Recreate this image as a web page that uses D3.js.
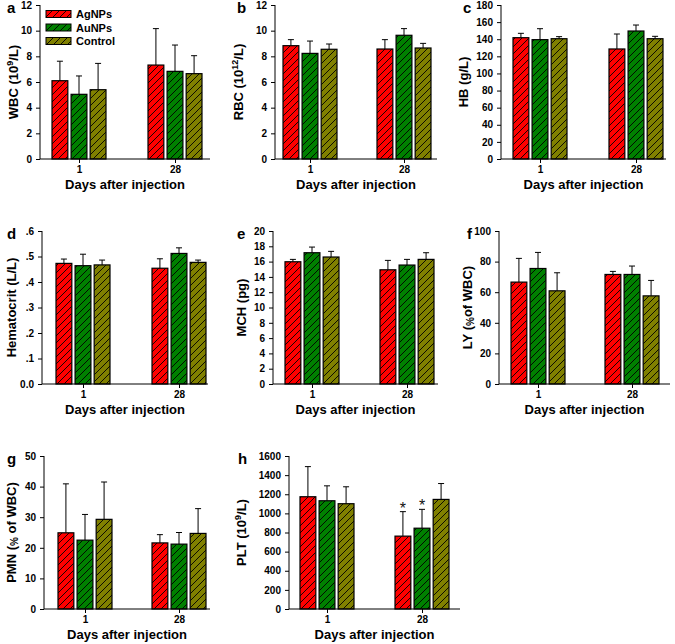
<!DOCTYPE html>
<html><head><meta charset="utf-8">
<script src="https://cdn.jsdelivr.net/npm/d3@7"></script>
<style>
body{margin:0;background:#fff;}
svg{display:block;font-family:Arial,"Liberation Sans",sans-serif;font-weight:bold;}
</style></head>
<body><svg id="chart" width="675" height="644"></svg>
<script>
// ---- data ----
const days = ["1", "28"];
const series = ["AgNPs", "AuNPs", "Control"];
const seriesColors = ["#ff0000", "#008000", "#808000"];

// means [day1, day28] and upper error (SD) per series, per panel
const wbcMean = {AgNPs:[6.1,7.32], AuNPs:[5.04,6.83], Control:[5.4,6.65]};
const wbcErr  = {AgNPs:[1.52,2.84], AuNPs:[1.43,2.05], Control:[2.05,1.4]};
const rbcMean = {AgNPs:[8.83,8.57], AuNPs:[8.23,9.64], Control:[8.55,8.65]};
const rbcErr  = {AgNPs:[0.47,0.73], AuNPs:[0.96,0.52], Control:[0.41,0.36]};
const hbMean  = {AgNPs:[141.8,128.6], AuNPs:[139.5,149.6], Control:[140.6,140.6]};
const hbErr   = {AgNPs:[5.1,17.5], AuNPs:[12.8,7], Control:[2.4,2.8]};
const hctMean = {AgNPs:[0.473,0.454], AuNPs:[0.464,0.512], Control:[0.467,0.477]};
const hctErr  = {AgNPs:[0.017,0.037], AuNPs:[0.045,0.022], Control:[0.019,0.009]};
const mchMean = {AgNPs:[15.98,14.93], AuNPs:[17.16,15.55], Control:[16.6,16.29]};
const mchErr  = {AgNPs:[0.31,1.23], AuNPs:[0.74,0.74], Control:[0.74,0.87]};
const lyMean  = {AgNPs:[66.6,71.6], AuNPs:[75.5,71.6], Control:[60.9,57.6]};
const lyErr   = {AgNPs:[15.5,2], AuNPs:[10.5,5.5], Control:[11.8,10.1]};
const pmnMean = {AgNPs:[24.9,21.6], AuNPs:[22.5,21.2], Control:[29.3,24.7]};
const pmnErr  = {AgNPs:[16,2.7], AuNPs:[8.4,3.8], Control:[12.2,8.1]};
const pltMean = {AgNPs:[1174,762], AuNPs:[1132,845], Control:[1101,1146]};
const pltErr  = {AgNPs:[315,256], AuNPs:[156,197], Control:[177,166]};
const pltSignif = [{series:"AgNPs", day:"28"}, {series:"AuNPs", day:"28"}];

const wbcTicks = [0,2,4,6,8,10,12];
const rbcTicks = [0,2,4,6,8,10,12];
const hbTicks  = [0,20,40,60,80,100,120,140,160,180];
const hctTicks = [0,0.1,0.2,0.3,0.4,0.5,0.6];
const hctTickLabels = ["0.0",".1",".2",".3",".4",".5",".6"];
const mchTicks = [0,2,4,6,8,10,12,14,16,18,20];
const lyTicks  = [0,20,40,60,80,100];
const pmnTicks = [0,10,20,30,40,50];
const pltTicks = [0,200,400,600,800,1000,1200,1400,1600];

const xTitle = "Days after injection";

// ---- layout ----
const panels = [
 {letter:"a", mean:wbcMean, err:wbcErr, ticks:wbcTicks, label:[["WBC (10"],["9","sup"],["/L)"]],
  x0:40, x1:210, c1:79, c28:175, top:5, base:159, lx:18, letX:7},
 {letter:"b", mean:rbcMean, err:rbcErr, ticks:rbcTicks, label:[["RBC (10"],["12","sup"],["/L)"]],
  x0:275, x1:437, c1:310, c28:404, top:5, base:159, lx:243, letX:237},
 {letter:"c", mean:hbMean, err:hbErr, ticks:hbTicks, label:[["HB (g/L)"]],
  x0:501, x1:666, c1:540, c28:636, top:5, base:159, lx:468, letX:463},
 {letter:"d", mean:hctMean, err:hctErr, ticks:hctTicks, tickLabels:hctTickLabels, label:[["Hematocrit (L/L)"]],
  x0:42, x1:208, c1:83, c28:179, top:231, base:384, lx:16, letX:7},
 {letter:"e", mean:mchMean, err:mchErr, ticks:mchTicks, label:[["MCH (pg)"]],
  x0:273, x1:438, c1:312, c28:407, top:231, base:384, lx:246, letX:237},
 {letter:"f", mean:lyMean, err:lyErr, ticks:lyTicks, label:[["LY ("],["%","small"],["of WBC)"]],
  x0:499, x1:670, c1:538, c28:632, top:231, base:384, lx:472, letX:467},
 {letter:"g", mean:pmnMean, err:pmnErr, ticks:pmnTicks, label:[["PMN ("],["%","small"],[" of WBC)"]],
  x0:44, x1:210, c1:85, c28:179, top:456, base:609, lx:16, letX:7},
 {letter:"h", mean:pltMean, err:pltErr, ticks:pltTicks, label:[["PLT (10"],["9","sup"],["/L)"]],
  x0:289, x1:460, c1:327, c28:422, top:456, base:609, lx:246, letX:238, signif:pltSignif}
];

const svg = d3.select("#chart");
const defs = svg.append("defs");
series.forEach((s,i)=>{
  const p = defs.append("pattern").attr("id","hatch"+i)
    .attr("patternUnits","userSpaceOnUse").attr("width",7).attr("height",7);
  p.append("rect").attr("width",7).attr("height",7).attr("fill",seriesColors[i]);
  p.append("path").attr("d","M0,7 L7,0 M-1,1 L1,-1 M6,8 L8,6")
    .attr("stroke","#000").attr("stroke-width",0.9);
});
const color = d3.scaleOrdinal().domain(series).range(series.map((s,i)=>"url(#hatch"+i+")"));

panels.forEach(P=>{
  const g = svg.append("g");
  const y = d3.scaleLinear().domain([P.ticks[0], P.ticks[P.ticks.length-1]]).range([P.base, P.top]);
  const xg = d3.scalePoint().domain(days).range([P.c1, P.c28]);
  const xs = d3.scaleBand().domain(series).range([-27,27]).paddingInner(0.17);

  // bars
  const data = [];
  series.forEach(s=>days.forEach((d,j)=>data.push({s, d, v:P.mean[s][j], e:P.err[s][j]})));
  const bx = d => xg(d.d) + xs(d.s);
  g.selectAll("rect.bar").data(data).join("rect").attr("class","bar")
    .attr("x", bx).attr("width", xs.bandwidth())
    .attr("y", d=>y(d.v)).attr("height", d=>y(P.ticks[0])-y(d.v))
    .attr("fill", d=>color(d.s)).attr("stroke","#000").attr("stroke-width",1.2);
  // error bars
  const cx = d => bx(d) + xs.bandwidth()/2;
  g.selectAll("path.err").data(data).join("path").attr("class","err")
    .attr("d", d=>`M${cx(d)},${y(d.v)}V${y(d.v+d.e)}M${cx(d)-3},${y(d.v+d.e)}H${cx(d)+3}`)
    .attr("stroke","#000").attr("stroke-width",1).attr("fill","none");
  if (P.signif) {
    g.selectAll("text.sig").data(P.signif.map(k=>data.find(d=>d.s===k.series&&d.d===k.day)))
      .join("text").attr("class","sig")
      .attr("x", cx).attr("y", d=>y(d.v+d.e)+2).attr("text-anchor","middle")
      .attr("font-size",16).attr("font-weight","normal").attr("fill","#111").text("*");
  }

  // axes
  const yAxis = d3.axisLeft(y).tickValues(P.ticks).tickSize(4).tickPadding(4)
    .tickFormat((v,i)=> P.tickLabels ? P.tickLabels[i] : d3.format("d")(v));
  const ya = g.append("g").attr("transform",`translate(${P.x0},0)`).call(yAxis);
  ya.select(".domain").attr("d",`M-0,${P.top}V${P.base}`);
  const xAxis = d3.axisBottom(xg).tickSize(4).tickPadding(3);
  const xa = g.append("g").attr("transform",`translate(0,${P.base})`).call(xAxis);
  xa.select(".domain").attr("d",`M${P.x0},0H${P.x1}`);
  [ya,xa].forEach(a=>{
    a.selectAll("text").attr("font-size",10).attr("font-weight","bold")
      .attr("font-family",'Arial,"Liberation Sans",sans-serif').attr("fill","#000");
    a.selectAll("line,path").attr("stroke","#000").attr("stroke-width",1);
  });

  // x title
  g.append("text").attr("x",(P.x0+P.x1)/2).attr("y",P.base+30).attr("text-anchor","middle")
    .attr("font-size",13).text(xTitle);
  // y title
  const yt = g.append("text").attr("transform",`translate(${P.lx},${(P.top+P.base)/2}) rotate(-90)`)
    .attr("text-anchor","middle").attr("font-size",13);
  P.label.forEach(([t,k])=>{
    const ts = yt.append("tspan").text(t);
    if (k==="sup") ts.attr("font-size",9).attr("dy",-5);
    else if (k==="small") ts.attr("font-size",10).attr("dy",2);
  });
  // fix dy after super/sub
  yt.selectAll("tspan").each(function(d,i,n){
    if (i>0){
      const prev = P.label[i-1][1];
      if (prev==="sup") d3.select(this).attr("dy",5);
      if (prev==="small") d3.select(this).attr("dy",-2);
    }
  });
  // letter
  g.append("text").attr("x",P.letX).attr("y",P.top+8).attr("font-size",15).text(P.letter);
});

// legend (panel a)
const lg = svg.append("g");
series.forEach((s,i)=>{
  const yy = 14 + i*13.5;
  lg.append("rect").attr("x",46).attr("y",yy-3.5).attr("width",25).attr("height",7)
    .attr("fill",color(s)).attr("stroke","#000").attr("stroke-width",1);
  lg.append("text").attr("x",76).attr("y",yy+4).attr("font-size",11).text(s);
});
</script></body></html>
